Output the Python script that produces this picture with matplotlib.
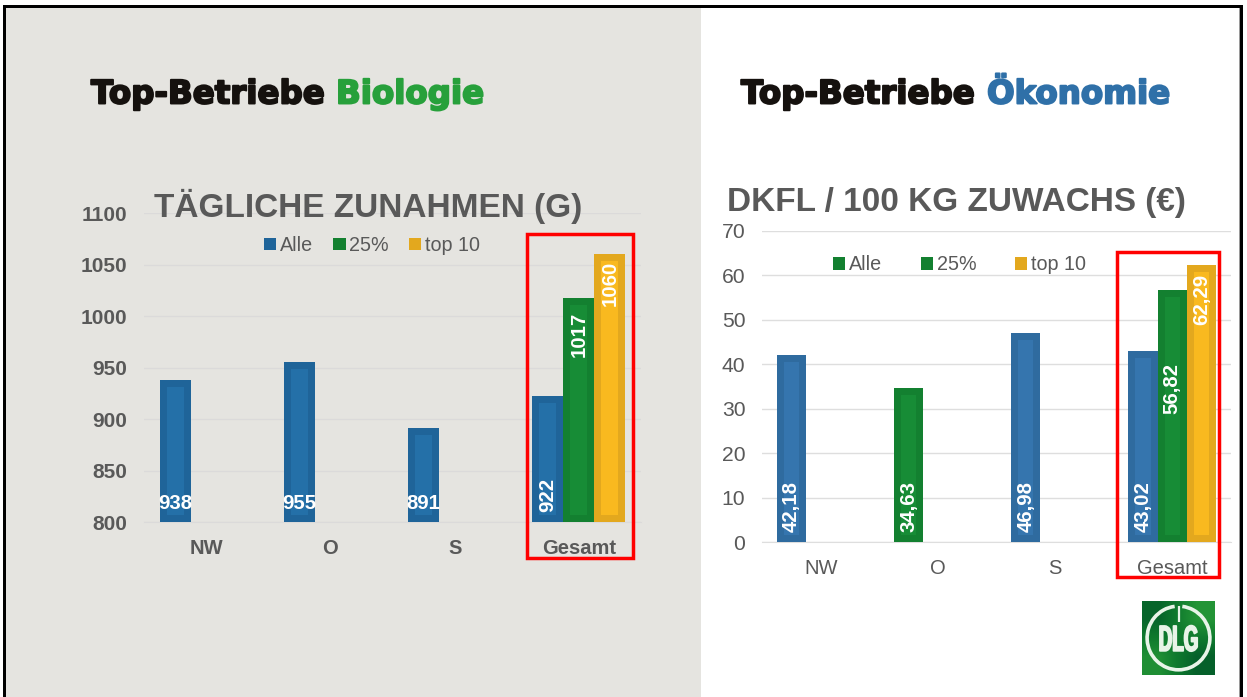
import matplotlib
matplotlib.use('Agg')
import matplotlib.pyplot as plt
import matplotlib.patheffects as pe
from matplotlib.colors import LinearSegmentedColormap
from matplotlib.patches import Patch, Rectangle, Arc
from matplotlib.transforms import Affine2D

plt.rcParams['font.family'] = ['Liberation Sans', 'DejaVu Sans']

W, H = 1247, 697

# Daten
categories = ['NW', 'O', 'S', 'Gesamt']
series_names = ['Alle', '25%', 'top 10']

left_positions = [0, 1, 2, 3, 3, 3]
left_offsets = [-1, -1, -1, -1, 0, 1]
left_values = [938, 955, 891, 922, 1017, 1060]
left_labels = ['938', '955', '891', '922', '1017', '1060']
left_series = [0, 0, 0, 0, 1, 2]
left_ticks = [800, 850, 900, 950, 1000, 1050, 1100]

right_positions = [0, 1, 2, 3, 3, 3]
right_offsets = [-1, -1, -1, -1, 0, 1]
right_values = [42.18, 34.63, 46.98, 43.02, 56.82, 62.29]
right_labels = ['42,18', '34,63', '46,98', '43,02', '56,82', '62,29']
right_series = [0, 1, 0, 0, 1, 2]
right_ticks = [0, 10, 20, 30, 40, 50, 60, 70]

# Abstand der Beschriftung von der Balkenoberkante in Pixel
top_inset = {'1017': 13, '1060': 7, '56,82': 73, '62,29': 9}

left_colors = [('#1F6499', '#2470A8'), ('#138030', '#178C36'), ('#E3A81E', '#F9B91F')]
right_colors = [('#2F6B9F', '#3575AE'), ('#138030', '#178C36'), ('#E3A81E', '#F9B91F')]
legend_left = ['#1F6499', '#138030', '#E3A81E']
legend_right = ['#138030', '#138030', '#E3A81E']

grey = '#595959'
panel = '#E5E4E0'
logo_white = '#E8F4E8'
PX = 72 / 100


class Squeeze(pe.AbstractPathEffect):
    # Schrift schmaler und kraeftiger machen, fuer das Logo
    def __init__(self, sx, cx):
        super().__init__()
        self.sx = sx
        self.cx = cx

    def draw_path(self, renderer, gc, tpath, affine, rgbFace=None):
        t = affine + Affine2D().translate(-self.cx, 0).scale(self.sx, 1).translate(self.cx, 0)
        gc0 = renderer.new_gc()
        gc0.copy_properties(gc)
        gc0.set_foreground(logo_white)
        gc0.set_linewidth(1.3)
        renderer.draw_path(gc0, tpath, t, rgbFace)
        gc0.restore()


def px_axes(fig, x0, x1, ytop, ybottom):
    return fig.add_axes([x0 / W, 1 - ybottom / H, (x1 - x0) / W, (ybottom - ytop) / H])


def draw_chart(ax, pos, off, vals, labels, ser, ticks, colors, width, tick_weight, ytick_size, grid_color):
    ax.patch.set_alpha(0)
    x = [p + o * width for p, o in zip(pos, off)]
    heights = [v - ticks[0] for v in vals]
    bars = ax.bar(x, heights, bottom=ticks[0], width=width, zorder=3, linewidth=0)
    for b, s in zip(bars, ser):
        # dunkler Rand innen, auf das Rechteck beschnitten
        b.set_facecolor(colors[s][1])
        b.set_edgecolor(colors[s][0])
        b.set_linewidth(14 * PX)
        b.set_clip_path(b)
    for xi, v, t in zip(x, vals, labels):
        if t in top_inset:
            ax.annotate(t, (xi, v), xytext=(0, -top_inset[t] * PX), textcoords='offset points', rotation=90,
                        ha='center', va='top', color='white', fontweight='bold', fontsize=14.7, zorder=5)
        else:
            rot = 90 if len(t) > 3 or xi > 2.5 else 0
            shift = 10 * PX if rot == 90 else 9 * PX
            ax.annotate(t, (xi, ticks[0]), xytext=(0, shift), textcoords='offset points', rotation=rot,
                        ha='center', va='bottom', color='white', fontweight='bold', fontsize=14.7, zorder=5)
    ax.set_xlim(-0.5, 3.5)
    ax.set_ylim(ticks[0], ticks[-1])
    ax.set_yticks(ticks)
    ax.set_xticks(range(len(categories)))
    ax.set_xticklabels(categories)
    ax.grid(axis='y', color=grid_color, linewidth=1.0, zorder=0)
    ax.set_axisbelow(True)
    for sp in ax.spines.values():
        sp.set_visible(False)
    ax.spines['bottom'].set_visible(True)
    ax.spines['bottom'].set_color(grid_color)
    ax.tick_params(length=0, labelcolor=grey)
    ax.tick_params(axis='y', pad=12, labelsize=ytick_size)
    ax.tick_params(axis='x', pad=12, labelsize=14.5)
    for t in ax.get_xticklabels() + ax.get_yticklabels():
        t.set_fontweight(tick_weight)


fig = plt.figure(figsize=(W / 100, H / 100), dpi=100, facecolor='white')

# Hintergrund und Rahmen
bg = fig.add_axes([0, 0, 1, 1], zorder=0)
bg.set_xlim(0, W)
bg.set_ylim(H, 0)
bg.axis('off')
bg.add_patch(Rectangle((5, 7), 696, H, color=panel, linewidth=0))
bg.add_patch(Rectangle((3, 5), 1240, 3, color='black', linewidth=0))
bg.add_patch(Rectangle((3, 5), 3, H, color='black', linewidth=0))
bg.add_patch(Rectangle((1239, 8), 1, H, color='#9A9A9A', linewidth=0))
bg.add_patch(Rectangle((1240, 5), 3, H, color='black', linewidth=0))

# linkes Diagramm
ax1 = px_axes(fig, 144, 641, 213, 522)
ax1.set_zorder(1)
draw_chart(ax1, left_positions, left_offsets, left_values, left_labels, left_series, left_ticks,
           left_colors, 0.25, 'bold', 15, '#DBDADA')
h1 = [Patch(color=c, linewidth=0) for c in legend_left]
ax1.legend(h1, series_names, ncols=3, loc='center', bbox_to_anchor=(0.459, 0.895), frameon=False,
           fontsize=14.2, labelcolor=grey, handlelength=0.62, handleheight=0.62, handletextpad=0.2,
           columnspacing=1.0, borderpad=0)

# rechtes Diagramm
ax2 = px_axes(fig, 762, 1231, 231, 542)
ax2.set_zorder(1)
draw_chart(ax2, right_positions, right_offsets, right_values, right_labels, right_series, right_ticks,
           right_colors, 0.25, 'normal', 15.2, '#DEDEDE')
h2 = [Patch(color=c, linewidth=0) for c in legend_right]
ax2.legend(h2, series_names, ncols=3, loc='center', bbox_to_anchor=(0.421, 0.892), frameon=False,
           fontsize=14.2, labelcolor=grey, handlelength=0.62, handleheight=0.62, handletextpad=0.2,
           columnspacing=1.95, borderpad=0)


# Titel
def head(x, s, color):
    fig.text(x / W, 1 - 103.5 / H, s, color=color, fontsize=23.4, fontweight='bold', ha='left', va='baseline',
             family='DejaVu Sans', zorder=5,
             path_effects=[pe.withStroke(linewidth=1.4, foreground=color)])


head(91, 'Top-Betriebe', '#15110E')
head(336, 'Biologie', '#27A03B')
head(741, 'Top-Betriebe', '#15110E')
head(987, 'Ökonomie', '#2F70A8')
fig.text(368 / W, 1 - 217 / H, 'TÄGLICHE ZUNAHMEN (G)', color=grey, fontsize=24, fontweight='bold',
         ha='center', va='baseline', zorder=5)
fig.text(956.5 / W, 1 - 211 / H, 'DKFL / 100 KG ZUWACHS (€)', color=grey, fontsize=24, fontweight='bold',
         ha='center', va='baseline', zorder=5)

# rote Markierungen
marks = fig.add_axes([0, 0, 1, 1], zorder=3)
marks.set_xlim(0, W)
marks.set_ylim(H, 0)
marks.axis('off')
marks.add_patch(Rectangle((527, 234), 106, 324, fill=False, edgecolor='#FF0000', linewidth=2.5))
marks.add_patch(Rectangle((1116.5, 251.5), 102.5, 325, fill=False, edgecolor='#FF0000', linewidth=2.5))

# DLG Logo
logo = fig.add_axes([1142 / W, 1 - 675 / H, 73 / W, 74 / H], zorder=4)
green_map = LinearSegmentedColormap.from_list('dlg', ['#05602A', '#0F7A2E', '#239436'])
logo.imshow([[0.1, 1.0], [0.9, 0.0]], cmap=green_map, vmin=0, vmax=1, extent=(0, 1, 0, 1),
            aspect='auto', interpolation='bilinear')
logo.add_patch(Arc((0.5, 0.5), 0.86, 0.86, theta1=97, theta2=83, edgecolor=logo_white, linewidth=2.6))
logo.plot([0.5, 0.5], [0.93, 0.72], color=logo_white, linewidth=1.6, solid_capstyle='butt')
logo.text(0.5, 0.455, 'DLG', color=logo_white, fontsize=26, fontweight='bold', ha='center', va='center',
          path_effects=[Squeeze(0.52, 1178.5)])
logo.set_xlim(0, 1)
logo.set_ylim(0, 1)
logo.axis('off')

fig.savefig('out.png', dpi=100, facecolor=fig.get_facecolor())
